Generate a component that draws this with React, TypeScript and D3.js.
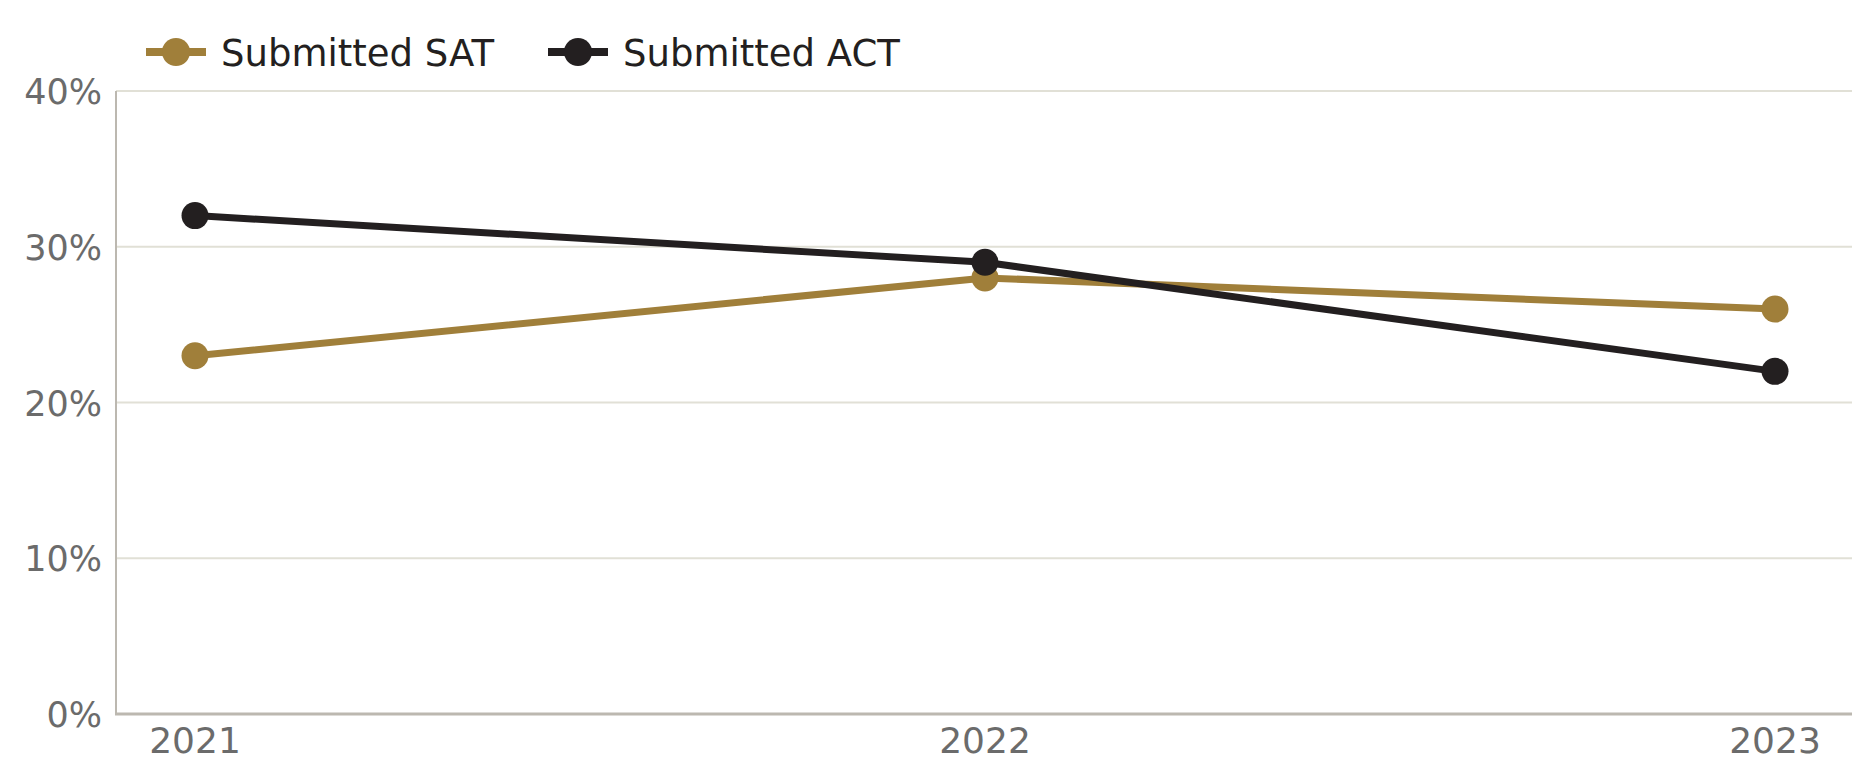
import React, { useEffect, useRef } from "react";
import * as d3 from "d3";

// chart data
const years = ["2021", "2022", "2023"];
const satValues = [23, 28, 26];
const actValues = [32, 29, 22];
const yTicks = [0, 10, 20, 30, 40];

const seriesNames = ["Submitted SAT", "Submitted ACT"];
const seriesColors = ["#a07f3a", "#231f20"];

const App: React.FC = () => {
  const ref = useRef<SVGSVGElement>(null);

  useEffect(() => {
    if (!ref.current) return;
    const svg = d3.select(ref.current);
    svg.selectAll("*").remove();

    const width = 1875;
    const height = 783;
    const left = 116;
    const right = 1852;
    const top = 91;
    const bottom = 714;
    const font = "'DejaVu Sans', Verdana, sans-serif";

    svg.attr("width", width).attr("height", height);

    const x = d3.scalePoint<string>().domain(years).range([195, 1775]);
    const y = d3.scaleLinear().domain([0, 40]).range([bottom, top]);

    // gridlines
    svg.append("g")
      .selectAll("line")
      .data(yTicks.filter(t => t > 0))
      .join("line")
      .attr("x1", left)
      .attr("x2", right)
      .attr("y1", d => y(d))
      .attr("y2", d => y(d))
      .attr("stroke", "#e1e0d6")
      .attr("stroke-width", 2);

    // y axis line
    svg.append("line")
      .attr("x1", left).attr("x2", left)
      .attr("y1", top).attr("y2", bottom)
      .attr("stroke", "#bcb8b0")
      .attr("stroke-width", 2);

    // x axis line
    svg.append("line")
      .attr("x1", left - 1).attr("x2", right)
      .attr("y1", bottom).attr("y2", bottom)
      .attr("stroke", "#bcb8b0")
      .attr("stroke-width", 3);

    // y tick labels
    svg.append("g")
      .selectAll("text")
      .data(yTicks)
      .join("text")
      .attr("x", 102)
      .attr("y", d => y(d) + 13)
      .attr("text-anchor", "end")
      .attr("font-family", font)
      .attr("font-size", 35)
      .attr("fill", "#6b6b6b")
      .text(d => `${d}%`);

    // x tick labels
    svg.append("g")
      .selectAll("text")
      .data(years)
      .join("text")
      .attr("x", d => x(d)!)
      .attr("y", 753)
      .attr("text-anchor", "middle")
      .attr("font-family", font)
      .attr("font-size", 36)
      .attr("fill", "#6b6b6b")
      .text(d => d);

    // lines + dots
    const series = [satValues, actValues];
    const line = d3.line<number>()
      .x((_, i) => x(years[i])!)
      .y(d => y(d));

    series.forEach((vals, si) => {
      svg.append("path")
        .datum(vals)
        .attr("d", line)
        .attr("fill", "none")
        .attr("stroke", seriesColors[si])
        .attr("stroke-width", 7);

      svg.append("g")
        .selectAll("circle")
        .data(vals)
        .join("circle")
        .attr("cx", (_, i) => x(years[i])!)
        .attr("cy", d => y(d))
        .attr("r", 13.5)
        .attr("fill", seriesColors[si]);
    });

    // legend
    const legendX = [176, 578];
    const legendY = 52;
    seriesNames.forEach((name, i) => {
      const g = svg.append("g");
      g.append("line")
        .attr("x1", legendX[i] - 30)
        .attr("x2", legendX[i] + 30)
        .attr("y1", legendY)
        .attr("y2", legendY)
        .attr("stroke", seriesColors[i])
        .attr("stroke-width", 8);
      g.append("circle")
        .attr("cx", legendX[i])
        .attr("cy", legendY)
        .attr("r", 14)
        .attr("fill", seriesColors[i]);
      g.append("text")
        .attr("x", legendX[i] + 45)
        .attr("y", 66)
        .attr("font-family", font)
        .attr("font-size", 37)
        .attr("fill", "#231f20")
        .text(name);
    });
  }, []);

  return (
    <svg ref={ref} style={{ position: "absolute", left: 0, top: 0, background: "#fff" }} />
  );
};

export default App;
